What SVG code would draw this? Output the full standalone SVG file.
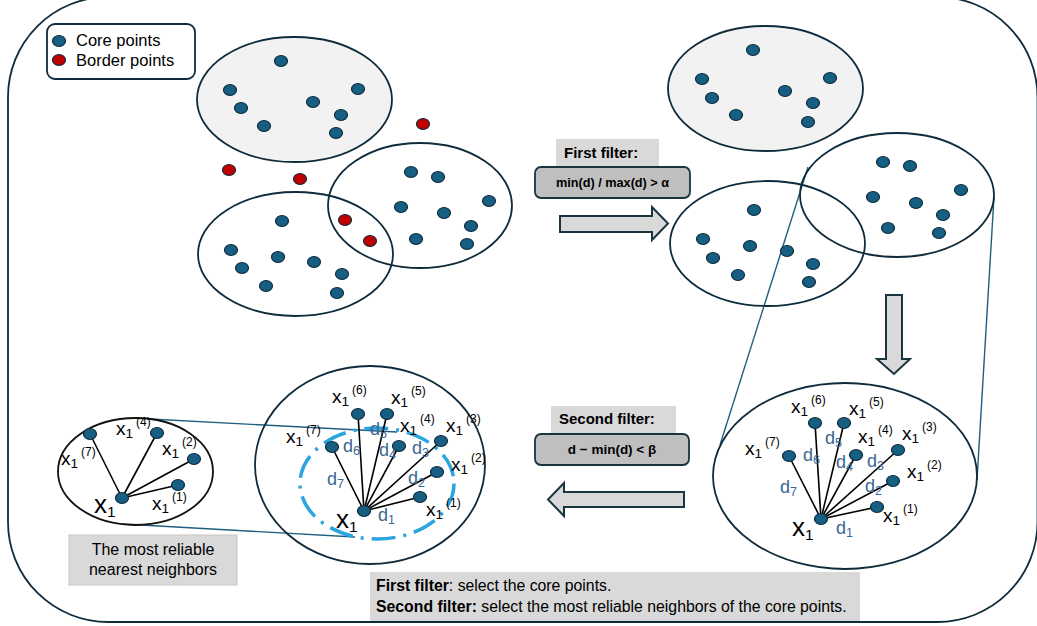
<svg xmlns="http://www.w3.org/2000/svg" xmlns:xlink="http://www.w3.org/1999/xlink" width="1037" height="626" viewBox="0 0 1037 626">
<style>
text { font-family: "Liberation Sans", Arial, sans-serif; }
.frame { fill: #ffffff; stroke: #0f2b3c; stroke-width: 1.8; }
.pt { fill: #165e82; stroke: #0f2b3c; stroke-width: 1.2; }
.bp { fill: #c00000; stroke: #0f2b3c; stroke-width: 1.2; }
.cl { fill: none; stroke: #0f2b3c; stroke-width: 1.8; }
.clg { fill: #f2f2f2; stroke: #0f2b3c; stroke-width: 1.8; }
.clk { fill: none; stroke: #111111; stroke-width: 1.8; }
.edge { stroke: #000000; stroke-width: 1.6; }
.link { stroke: #1f5f80; stroke-width: 1.4; fill: none; }
.blk { fill: #d9d9d9; stroke: #1a3440; stroke-width: 2; stroke-linejoin: miter; }
.tag { fill: #d9d9d9; }
.box { fill: #bfbfbf; stroke: #1a3440; stroke-width: 1.8; }
.lbl { font-size: 19px; fill: #000; }
.s1 { font-size: 13.5px; }
.s2 { font-size: 12px; }
.big { font-size: 26px; fill: #000; }
.bs { font-size: 15.5px; }
.dl { font-size: 18px; fill: #3a6694; }
.ds { font-size: 12.5px; }
.dash { fill: none; stroke: #2aa5df; stroke-width: 3.5; stroke-dasharray: 24 8 3 8; }
</style>
<defs>
<ellipse id="dot" cx="0" cy="0" rx="6.5" ry="5.5"/>
</defs>

<g id="frame">
<rect class="frame" x="8" y="-3" width="1029.5" height="625" rx="100" ry="100"/>
</g>

<g id="connectors">
<line class="link" x1="808" y1="167" x2="720" y2="445"/>
<line class="link" x1="994" y1="197" x2="977" y2="480"/>
<line class="link" x1="150" y1="419" x2="397" y2="432"/>
<line class="link" x1="123" y1="524" x2="355" y2="537"/>
<polygon class="blk" points="560,216 652,216 652,207 668,223.5 652,240 652,232 560,232"/>
<polygon class="blk" points="886,295 902,295 902,359 910,359 894,374 877,359 886,359"/>
<polygon class="blk" points="684,492 564,492 564,483 548,499.5 564,516 564,507 684,507"/>
</g>

<g id="legend">
<rect x="47" y="24" width="148" height="55" rx="8" ry="8" fill="#ffffff" stroke="#0f2b3c" stroke-width="1.8"/>
<use xlink:href="#dot" x="59" y="41" class="pt"/>
<use xlink:href="#dot" x="59" y="60" class="bp"/>
<text x="76" y="46" font-size="16.5">Core points</text>
<text x="76" y="66" font-size="16.5">Border points</text>
</g>

<g id="cluster-a">
<ellipse class="clg" cx="294.5" cy="99.5" rx="97.5" ry="62.5"/>
<use xlink:href="#dot" class="pt" x="281" y="61"/>
<use xlink:href="#dot" class="pt" x="230" y="90"/>
<use xlink:href="#dot" class="pt" x="241" y="108"/>
<use xlink:href="#dot" class="pt" x="264" y="126"/>
<use xlink:href="#dot" class="pt" x="313" y="102"/>
<use xlink:href="#dot" class="pt" x="358" y="89"/>
<use xlink:href="#dot" class="pt" x="341" y="115"/>
<use xlink:href="#dot" class="pt" x="336" y="133"/>
</g>

<g id="cluster-b">
<ellipse class="cl" cx="295.5" cy="254" rx="97.5" ry="62"/>
<use xlink:href="#dot" class="pt" x="282" y="221"/>
<use xlink:href="#dot" class="pt" x="231" y="250"/>
<use xlink:href="#dot" class="pt" x="242" y="268"/>
<use xlink:href="#dot" class="pt" x="266" y="286"/>
<use xlink:href="#dot" class="pt" x="278" y="257"/>
<use xlink:href="#dot" class="pt" x="314" y="262"/>
<use xlink:href="#dot" class="pt" x="342" y="274"/>
<use xlink:href="#dot" class="pt" x="337" y="293"/>
</g>

<g id="cluster-c">
<ellipse class="cl" cx="420" cy="205.5" rx="92" ry="62.5"/>
<use xlink:href="#dot" class="pt" x="411" y="172"/>
<use xlink:href="#dot" class="pt" x="438" y="177"/>
<use xlink:href="#dot" class="pt" x="401" y="207"/>
<use xlink:href="#dot" class="pt" x="444" y="213"/>
<use xlink:href="#dot" class="pt" x="489" y="201"/>
<use xlink:href="#dot" class="pt" x="471" y="226"/>
<use xlink:href="#dot" class="pt" x="416" y="239"/>
<use xlink:href="#dot" class="pt" x="467" y="244"/>
</g>

<g id="border-points">
<use xlink:href="#dot" class="bp" x="229" y="170"/>
<use xlink:href="#dot" class="bp" x="300" y="179"/>
<use xlink:href="#dot" class="bp" x="423" y="124"/>
<use xlink:href="#dot" class="bp" x="345" y="220"/>
<use xlink:href="#dot" class="bp" x="370" y="241"/>
</g>

<g id="first-filter">
<rect class="tag" x="556" y="139" width="103" height="30"/>
<text x="564" y="158" font-size="15" font-weight="bold">First filter:</text>
<rect class="box" x="535" y="167" width="155" height="31" rx="6" ry="6"/>
<text x="612.5" y="187" font-size="12.7" font-weight="bold" text-anchor="middle">min(d) / max(d) &gt; α</text>
</g>

<g id="filtered-a">
<ellipse class="clg" cx="765.5" cy="88.5" rx="97.5" ry="62.5"/>
<use xlink:href="#dot" class="pt" x="753" y="50"/>
<use xlink:href="#dot" class="pt" x="702" y="79"/>
<use xlink:href="#dot" class="pt" x="712" y="98"/>
<use xlink:href="#dot" class="pt" x="736" y="115"/>
<use xlink:href="#dot" class="pt" x="785" y="91"/>
<use xlink:href="#dot" class="pt" x="830" y="78"/>
<use xlink:href="#dot" class="pt" x="813" y="103"/>
<use xlink:href="#dot" class="pt" x="808" y="122"/>
</g>

<g id="filtered-b">
<ellipse class="cl" cx="767.5" cy="243.5" rx="97.5" ry="62.5"/>
<use xlink:href="#dot" class="pt" x="754" y="210"/>
<use xlink:href="#dot" class="pt" x="703" y="239"/>
<use xlink:href="#dot" class="pt" x="713" y="258"/>
<use xlink:href="#dot" class="pt" x="738" y="275"/>
<use xlink:href="#dot" class="pt" x="750" y="246"/>
<use xlink:href="#dot" class="pt" x="787" y="251"/>
<use xlink:href="#dot" class="pt" x="813" y="264"/>
<use xlink:href="#dot" class="pt" x="809" y="282"/>
</g>

<g id="filtered-c">
<ellipse class="cl" cx="897" cy="195" rx="97" ry="62"/>
<use xlink:href="#dot" class="pt" x="883" y="162"/>
<use xlink:href="#dot" class="pt" x="910" y="166"/>
<use xlink:href="#dot" class="pt" x="873" y="197"/>
<use xlink:href="#dot" class="pt" x="916" y="203"/>
<use xlink:href="#dot" class="pt" x="961" y="190"/>
<use xlink:href="#dot" class="pt" x="943" y="215"/>
<use xlink:href="#dot" class="pt" x="888" y="228"/>
<use xlink:href="#dot" class="pt" x="939" y="233"/>
</g>

<g id="neighbors-x1">
<ellipse class="cl" cx="845" cy="476" rx="132" ry="93"/>
<line class="edge" x1="821" y1="519" x2="789" y2="456"/>
<line class="edge" x1="821" y1="519" x2="815" y2="423"/>
<line class="edge" x1="821" y1="519" x2="844" y2="423"/>
<line class="edge" x1="821" y1="519" x2="856" y2="455"/>
<line class="edge" x1="821" y1="519" x2="898" y2="450"/>
<line class="edge" x1="821" y1="519" x2="893" y2="481"/>
<line class="edge" x1="821" y1="519" x2="877" y2="507"/>
<use xlink:href="#dot" class="pt" x="789" y="456"/>
<use xlink:href="#dot" class="pt" x="815" y="423"/>
<use xlink:href="#dot" class="pt" x="844" y="423"/>
<use xlink:href="#dot" class="pt" x="856" y="455"/>
<use xlink:href="#dot" class="pt" x="898" y="450"/>
<use xlink:href="#dot" class="pt" x="893" y="481"/>
<use xlink:href="#dot" class="pt" x="877" y="507"/>
<use xlink:href="#dot" class="pt" x="821" y="519"/>
<text class="lbl" x="745" y="455">x<tspan class="s1" dy="3">1</tspan><tspan class="s2" dx="3" dy="-12">(7)</tspan></text>
<text class="lbl" x="791" y="413">x<tspan class="s1" dy="3">1</tspan><tspan class="s2" dx="3" dy="-12">(6)</tspan></text>
<text class="lbl" x="849" y="415">x<tspan class="s1" dy="3">1</tspan><tspan class="s2" dx="3" dy="-12">(5)</tspan></text>
<text class="lbl" x="858" y="443">x<tspan class="s1" dy="3">1</tspan><tspan class="s2" dx="3" dy="-12">(4)</tspan></text>
<text class="lbl" x="902" y="440">x<tspan class="s1" dy="3">1</tspan><tspan class="s2" dx="3" dy="-12">(3)</tspan></text>
<text class="lbl" x="907" y="478">x<tspan class="s1" dy="3">1</tspan><tspan class="s2" dx="3" dy="-12">(2)</tspan></text>
<text class="lbl" x="883" y="522">x<tspan class="s1" dy="3">1</tspan><tspan class="s2" dx="3" dy="-12">(1)</tspan></text>
<text class="big" x="792" y="536">x<tspan class="bs" dy="4">1</tspan></text>
<text class="dl" x="803" y="461">d<tspan class="ds" dy="3">6</tspan></text>
<text class="dl" x="825" y="444">d<tspan class="ds" dy="3">5</tspan></text>
<text class="dl" x="836" y="468">d<tspan class="ds" dy="3">4</tspan></text>
<text class="dl" x="867" y="467">d<tspan class="ds" dy="3">3</tspan></text>
<text class="dl" x="780" y="493">d<tspan class="ds" dy="3">7</tspan></text>
<text class="dl" x="865" y="492">d<tspan class="ds" dy="3">2</tspan></text>
<text class="dl" x="836" y="534">d<tspan class="ds" dy="3">1</tspan></text>
</g>

<g id="second-filter">
<rect class="tag" x="551" y="406" width="125" height="30"/>
<text x="559" y="424" font-size="15" font-weight="bold">Second filter:</text>
<rect class="box" x="535" y="434" width="154" height="31" rx="6" ry="6"/>
<text x="612" y="454" font-size="13.5" font-weight="bold" text-anchor="middle">d − min(d) &lt; β</text>
</g>

<g id="filtered-x1">
<ellipse class="cl" cx="370" cy="465" rx="115" ry="99"/>
<ellipse class="dash" cx="377" cy="483.5" rx="77" ry="55.5"/>
<line class="edge" x1="364" y1="511" x2="332" y2="447"/>
<line class="edge" x1="364" y1="511" x2="358" y2="414"/>
<line class="edge" x1="364" y1="511" x2="387" y2="414"/>
<line class="edge" x1="364" y1="511" x2="399" y2="446"/>
<line class="edge" x1="364" y1="511" x2="441" y2="441"/>
<line class="edge" x1="364" y1="511" x2="437" y2="472"/>
<line class="edge" x1="364" y1="511" x2="420" y2="497"/>
<use xlink:href="#dot" class="pt" x="332" y="447"/>
<use xlink:href="#dot" class="pt" x="358" y="414"/>
<use xlink:href="#dot" class="pt" x="387" y="414"/>
<use xlink:href="#dot" class="pt" x="399" y="446"/>
<use xlink:href="#dot" class="pt" x="441" y="441"/>
<use xlink:href="#dot" class="pt" x="437" y="472"/>
<use xlink:href="#dot" class="pt" x="420" y="497"/>
<use xlink:href="#dot" class="pt" x="364" y="511"/>
<text class="lbl" x="286" y="443">x<tspan class="s1" dy="3">1</tspan><tspan class="s2" dx="3" dy="-12">(7)</tspan></text>
<text class="lbl" x="332" y="403">x<tspan class="s1" dy="3">1</tspan><tspan class="s2" dx="3" dy="-12">(6)</tspan></text>
<text class="lbl" x="391" y="404">x<tspan class="s1" dy="3">1</tspan><tspan class="s2" dx="3" dy="-12">(5)</tspan></text>
<text class="lbl" x="400" y="432">x<tspan class="s1" dy="3">1</tspan><tspan class="s2" dx="3" dy="-12">(4)</tspan></text>
<text class="lbl" x="446" y="432">x<tspan class="s1" dy="3">1</tspan><tspan class="s2" dx="3" dy="-12">(3)</tspan></text>
<text class="lbl" x="451" y="471">x<tspan class="s1" dy="3">1</tspan><tspan class="s2" dx="3" dy="-12">(2)</tspan></text>
<text class="lbl" x="426" y="516">x<tspan class="s1" dy="3">1</tspan><tspan class="s2" dx="3" dy="-12">(1)</tspan></text>
<text class="big" x="336" y="528">x<tspan class="bs" dy="4">1</tspan></text>
<text class="dl" x="343" y="452">d<tspan class="ds" dy="3">6</tspan></text>
<text class="dl" x="370" y="435">d<tspan class="ds" dy="3">5</tspan></text>
<text class="dl" x="379" y="456">d<tspan class="ds" dy="3">4</tspan></text>
<text class="dl" x="412" y="454">d<tspan class="ds" dy="3">3</tspan></text>
<text class="dl" x="327" y="485">d<tspan class="ds" dy="3">7</tspan></text>
<text class="dl" x="408" y="484">d<tspan class="ds" dy="3">2</tspan></text>
<text class="dl" x="378" y="521">d<tspan class="ds" dy="3">1</tspan></text>
</g>

<g id="reliable-x1">
<ellipse class="clk" cx="135.5" cy="471.5" rx="77.5" ry="53.5"/>
<line class="edge" x1="122" y1="498" x2="90" y2="434"/>
<line class="edge" x1="122" y1="498" x2="157" y2="433"/>
<line class="edge" x1="122" y1="498" x2="194" y2="459"/>
<line class="edge" x1="122" y1="498" x2="178" y2="485"/>
<use xlink:href="#dot" class="pt" x="90" y="434"/>
<use xlink:href="#dot" class="pt" x="157" y="433"/>
<use xlink:href="#dot" class="pt" x="194" y="459"/>
<use xlink:href="#dot" class="pt" x="178" y="485"/>
<use xlink:href="#dot" class="pt" x="122" y="498"/>
<text class="lbl" x="61" y="465">x<tspan class="s1" dy="3">1</tspan><tspan class="s2" dx="3" dy="-12">(7)</tspan></text>
<text class="lbl" x="116" y="435">x<tspan class="s1" dy="3">1</tspan><tspan class="s2" dx="3" dy="-12">(4)</tspan></text>
<text class="lbl" x="162" y="455">x<tspan class="s1" dy="3">1</tspan><tspan class="s2" dx="3" dy="-12">(2)</tspan></text>
<text class="lbl" x="152" y="510">x<tspan class="s1" dy="3">1</tspan><tspan class="s2" dx="3" dy="-12">(1)</tspan></text>
<text class="big" x="94" y="513">x<tspan class="bs" dy="4">1</tspan></text>
</g>

<g id="caption-reliable">
<rect x="69" y="535" width="168" height="50" fill="#d9d9d9" stroke="#c8c8c8" stroke-width="1"/>
<text x="153" y="555" font-size="16" text-anchor="middle">The most reliable</text>
<text x="153" y="575" font-size="16" text-anchor="middle">nearest neighbors</text>
</g>

<g id="caption-summary">
<rect x="370" y="572" width="490" height="49" fill="#d9d9d9"/>
<text x="376" y="591" font-size="15.8"><tspan font-weight="bold">First filter</tspan>: select the core points.</text>
<text x="376" y="612" font-size="15.8"><tspan font-weight="bold">Second filter:</tspan> select the most reliable neighbors of the core points.</text>
</g>
</svg>
